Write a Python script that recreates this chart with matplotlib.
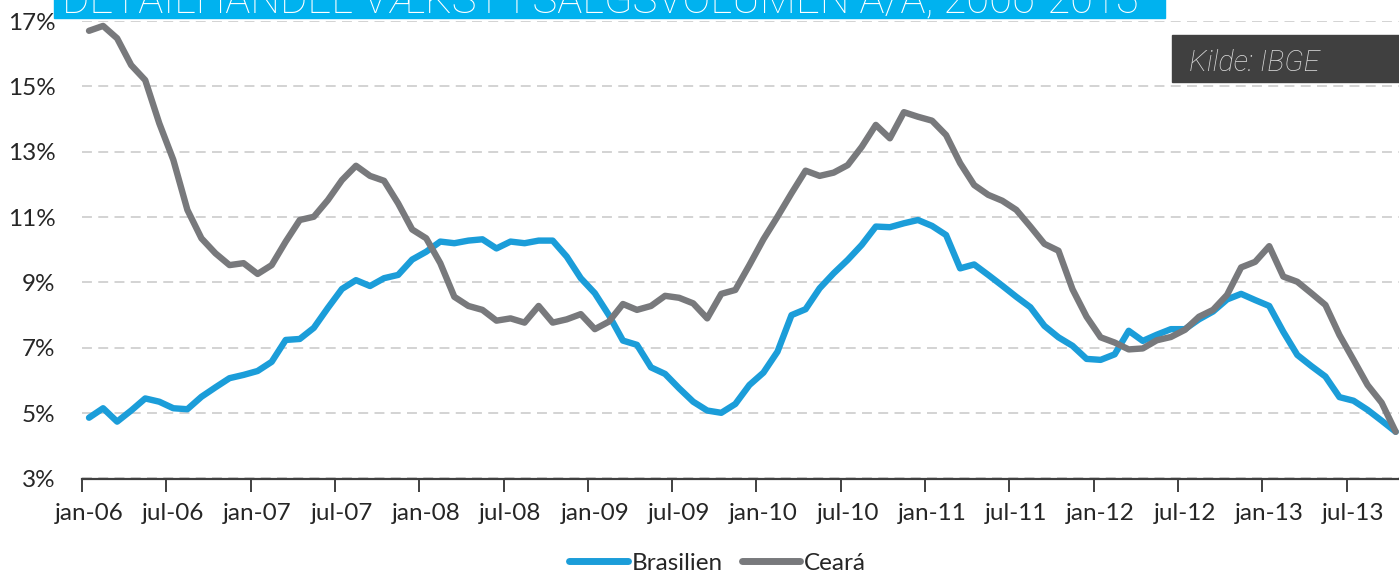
import matplotlib
matplotlib.use("Agg")
import matplotlib.pyplot as plt
from matplotlib.patches import Rectangle

# ---------------- data ----------------
months = ["jan", "feb", "mar", "apr", "maj", "jun", "jul", "aug", "sep", "okt", "nov", "dec"]
years = list(range(6, 14))
dates = [f"{m}-{y:02d}" for y in years for m in months][:94]   # jan-06 .. okt-13

brasilien = [4.86, 5.15, 4.74, 5.08, 5.45, 5.35, 5.15, 5.12, 5.50, 5.79,
             6.07, 6.17, 6.29, 6.57, 7.24, 7.27, 7.61, 8.22, 8.80, 9.07,
             8.89, 9.13, 9.23, 9.70, 9.94, 10.25, 10.20, 10.28, 10.32, 10.04,
             10.25, 10.20, 10.28, 10.28, 9.79, 9.13, 8.67, 8.00, 7.22, 7.09,
             6.40, 6.20, 5.76, 5.35, 5.08, 5.01, 5.28, 5.86, 6.24, 6.88,
             8.00, 8.18, 8.82, 9.28, 9.69, 10.15, 10.71, 10.69, 10.81, 10.91,
             10.73, 10.45, 9.43, 9.55, 9.23, 8.90, 8.56, 8.24, 7.67, 7.32,
             7.06, 6.66, 6.63, 6.80, 7.52, 7.21, 7.40, 7.57, 7.57, 7.87,
             8.11, 8.48, 8.65, 8.46, 8.28, 7.49, 6.78, 6.44, 6.12, 5.49,
             5.38, 5.10, 4.77, 4.43]

ceara = [16.70, 16.85, 16.47, 15.65, 15.19, 13.87, 12.75, 11.22, 10.35, 9.89,
         9.53, 9.59, 9.26, 9.53, 10.25, 10.91, 11.01, 11.52, 12.13, 12.57,
         12.26, 12.11, 11.42, 10.62, 10.35, 9.59, 8.56, 8.28, 8.16, 7.83,
         7.90, 7.77, 8.28, 7.77, 7.87, 8.03, 7.57, 7.80, 8.34, 8.16,
         8.28, 8.59, 8.53, 8.36, 7.90, 8.65, 8.77, 9.53, 10.32, 11.01,
         11.73, 12.42, 12.26, 12.36, 12.59, 13.15, 13.82, 13.41, 14.21, 14.07,
         13.95, 13.51, 12.65, 11.98, 11.68, 11.50, 11.22, 10.71, 10.18, 9.97,
         8.79, 7.95, 7.32, 7.16, 6.95, 6.98, 7.23, 7.33, 7.55, 7.95,
         8.16, 8.62, 9.46, 9.63, 10.11, 9.18, 9.02, 8.67, 8.31, 7.39,
         6.63, 5.86, 5.32, 4.43]

series_names = ["Brasilien", "Ceará"]
yticks = [3, 5, 7, 9, 11, 13, 15, 17]
title = "DETAILHANDEL VÆKST I SALGSVOLUMEN Å/Å, 2006-2013"
source = "Kilde: IBGE"

# ---------------- style ----------------
BLUE = "#1B9DD9"
GRAY = "#78797C"
CYAN = "#00B2EF"
DARK = "#404040"
TXT = "#262626"
FONT = ["Lato", "DejaVu Sans"]

W, H = 1399, 576
fig = plt.figure(figsize=(W / 100, H / 100), dpi=100)
fig.patch.set_facecolor("white")

px_month = 14.05
ax_left, ax_bottom_px, ax_top_px = 82, 478.5, 21
ax = fig.add_axes([ax_left / W, (H - ax_bottom_px) / H,
                   (len(dates) * px_month) / W, (ax_bottom_px - ax_top_px) / H])

x = list(range(len(dates)))
ax.plot(x, brasilien, color=BLUE, lw=4.6, solid_joinstyle="round",
        solid_capstyle="round", label=series_names[0], zorder=3)
ax.plot(x, ceara, color=GRAY, lw=4.6, solid_joinstyle="round",
        solid_capstyle="round", label=series_names[1], zorder=4)

ax.set_xlim(-0.5, len(dates) - 0.5)
ax.set_ylim(yticks[0], yticks[-1])
ax.set_yticks(yticks)
ax.set_yticklabels([f"{v}%" for v in yticks])

# ticks at category boundaries, labels at category centers
major = [i - 0.5 for i in range(0, len(dates), 6)]
minor = list(range(0, len(dates), 6))
ax.set_xticks(major)
ax.set_xticklabels([""] * len(major))
ax.set_xticks(minor, minor=True)
ax.set_xticklabels([dates[i] for i in minor], minor=True)
ax.tick_params(axis="x", which="major", length=9, width=1.4, color=DARK, direction="out")
ax.tick_params(axis="x", which="minor", length=0, pad=18, labelsize=17.5, labelcolor=TXT)
ax.tick_params(axis="y", length=0, pad=19, labelsize=17.5, labelcolor=TXT)
for lab in ax.get_xticklabels(minor=True) + ax.get_yticklabels():
    lab.set_family(FONT)

for s in ["left", "right", "top"]:
    ax.spines[s].set_visible(False)
ax.spines["bottom"].set_color(DARK)
ax.spines["bottom"].set_linewidth(1.6)
ax.spines["bottom"].set_zorder(5)

ax.yaxis.grid(True, color="#D0D0D0", lw=1.3, dashes=(5.5, 3.5))
ax.set_axisbelow(True)

leg = fig.legend(loc="center", bbox_to_anchor=(0.513, 1 - 563 / H), ncol=2,
                 frameon=False, handlelength=2.4, handletextpad=0.15,
                 columnspacing=0.8, borderpad=0, prop={"family": FONT, "size": 17.5})
for t in leg.get_texts():
    t.set_color(TXT)
for h in leg.legend_handles:
    h.set_linewidth(5.0)
    h.set_solid_capstyle("round")

# title box (cut at top of image, as in the reference)
fig.add_artist(Rectangle((53.6 / W, 1 - 18.3 / H), (1165 - 53.6) / W, 18.3 / H + 0.01,
                         transform=fig.transFigure, color=CYAN, zorder=10))
t1 = fig.text(62.5 / W, 1 - 13 / H, title, color="white", fontsize=30,
              fontweight="light", family=["Roboto", "DejaVu Sans"],
              ha="left", va="baseline", zorder=11)

# source box
fig.add_artist(Rectangle((1172 / W, 1 - 81.7 / H), (W - 1172) / W + 0.01, (81.7 - 35) / H,
                         transform=fig.transFigure, color=DARK, zorder=10))
t2 = fig.text(1189 / W, 1 - 71 / H, source, color="#DADADA", fontsize=17,
              fontstyle="italic", fontweight="light", family=["Roboto", "DejaVu Sans"],
              ha="left", va="baseline", zorder=11)

# fit text widths to the reference
fig.canvas.draw()
r = fig.canvas.get_renderer()
for t, target in [(t1, 1077), (t2, 131)]:
    w = t.get_window_extent(r).width
    t.set_fontsize(t.get_fontsize() * target / w)

fig.savefig("out.png", dpi=100)
